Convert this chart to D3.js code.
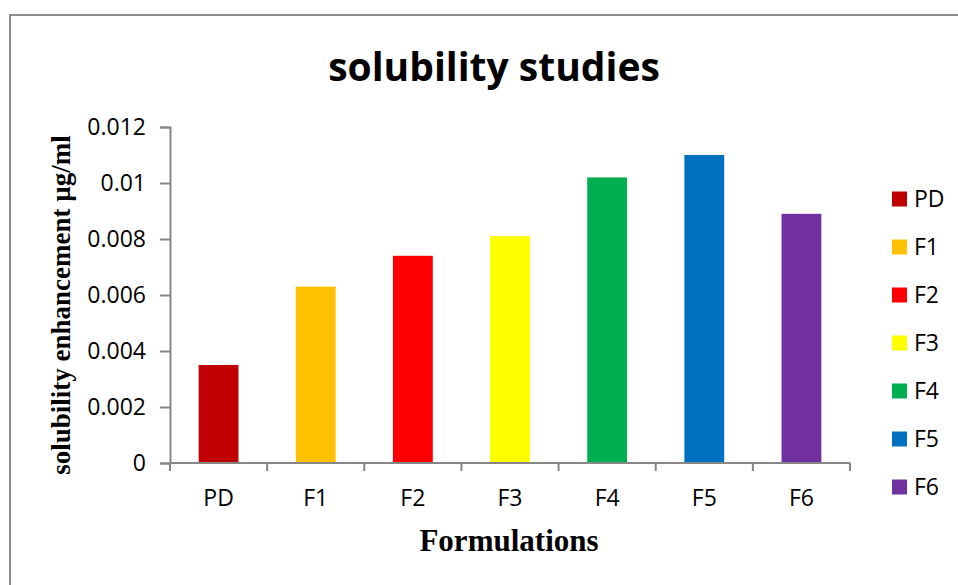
<!DOCTYPE html>
<html>
<head>
<meta charset="utf-8">
<script src="https://cdn.jsdelivr.net/npm/d3@7"></script>
<style>
  body { margin: 0; background: #fff; }
  svg { display: block; }
</style>
</head>
<body>
<div id="chart"></div>
<script>
const categories = ['PD', 'F1', 'F2', 'F3', 'F4', 'F5', 'F6'];
const values = [0.0035, 0.0063, 0.0074, 0.0081, 0.0102, 0.011, 0.0089];
const colors = ['#C00000', '#FFC000', '#FF0000', '#FFFF00', '#00B050', '#0070C0', '#7030A0'];
const yTicks = [0, 0.002, 0.004, 0.006, 0.008, 0.01, 0.012];

const width = 958, height = 585;
const margin = { top: 127, right: 108, bottom: 122, left: 170 };
const axisColor = '#868686';
const labelFont = '"Open Sans", sans-serif';

const svg = d3.select('#chart')
    .append('svg')
    .attr('width', width)
    .attr('height', height);

// Outer chart border (runs off the right/bottom edge)
svg.append('rect')
    .attr('x', 10)
    .attr('y', 15)
    .attr('width', 970)
    .attr('height', 600)
    .attr('fill', 'none')
    .attr('stroke', '#8c8c8c')
    .attr('stroke-width', 2);

const x = d3.scaleBand()
    .domain(categories)
    .range([margin.left, width - margin.right])
    .paddingInner(0.59)
    .paddingOuter(0.295);

const y = d3.scaleLinear()
    .domain([0, 0.012])
    .range([height - margin.bottom, margin.top]);

// Title
svg.append('text')
    .attr('x', 494)
    .attr('y', 81)
    .attr('text-anchor', 'middle')
    .style('font-family', labelFont)
    .style('font-size', '39px')
    .style('font-weight', 'bold')
    .text('solubility studies');

// Bars
svg.append('g')
    .selectAll('rect')
    .data(values)
    .enter().append('rect')
    .attr('x', (d, i) => x(categories[i]))
    .attr('y', d => y(d))
    .attr('width', x.bandwidth())
    .attr('height', d => y(0) - y(d))
    .attr('fill', (d, i) => colors[i]);

// Y axis
const yAxis = svg.append('g')
    .attr('transform', `translate(${margin.left},0)`)
    .call(d3.axisLeft(y).tickValues(yTicks).tickSize(10).tickPadding(14)
        .tickFormat(d => d === 0 ? '0' : String(+d.toFixed(3))));
yAxis.select('.domain').attr('stroke', axisColor).attr('stroke-width', 2);
yAxis.selectAll('.tick line').attr('stroke', axisColor).attr('stroke-width', 2);
yAxis.selectAll('.tick text')
    .attr('fill', '#000')
    .style('font-family', labelFont)
    .style('font-size', '23px');

// X axis: labels at band centres, ticks at band boundaries
const x0 = y(0);
const xAxis = svg.append('g')
    .attr('transform', `translate(0,${x0})`)
    .call(d3.axisBottom(x).tickSize(0).tickPadding(27));
xAxis.select('.domain').remove();
xAxis.selectAll('.tick text')
    .attr('fill', '#000')
    .style('font-family', labelFont)
    .style('font-size', '23px');

svg.append('line')
    .attr('x1', margin.left).attr('x2', width - margin.right)
    .attr('y1', x0).attr('y2', x0)
    .attr('stroke', axisColor).attr('stroke-width', 2);

const bounds = d3.range(categories.length + 1)
    .map(i => margin.left + i * x.step());
svg.append('g')
    .selectAll('line')
    .data(bounds)
    .enter().append('line')
    .attr('x1', d => d).attr('x2', d => d)
    .attr('y1', x0).attr('y2', x0 + 8)
    .attr('stroke', axisColor)
    .attr('stroke-width', 2);

// Axis titles
svg.append('text')
    .attr('x', 509)
    .attr('y', 551)
    .attr('text-anchor', 'middle')
    .style('font-family', '"Liberation Serif", "Times New Roman", serif')
    .style('font-size', '31px')
    .style('font-weight', 'bold')
    .text('Formulations');

svg.append('text')
    .attr('transform', 'translate(70,305) rotate(-90)')
    .attr('text-anchor', 'middle')
    .style('font-family', '"Liberation Serif", "Times New Roman", serif')
    .style('font-size', '27px')
    .style('font-weight', 'bold')
    .text('solubility enhancement µg/ml');

// Legend
const legend = svg.append('g')
    .selectAll('g')
    .data(categories)
    .enter().append('g')
    .attr('transform', (d, i) => `translate(892,${199 + i * 48})`);

legend.append('rect')
    .attr('x', 0)
    .attr('y', -7.5)
    .attr('width', 15)
    .attr('height', 15)
    .attr('fill', (d, i) => colors[i]);

legend.append('text')
    .attr('x', 22)
    .attr('dy', '0.35em')
    .style('font-family', labelFont)
    .style('font-size', '23px')
    .text(d => d);
</script>
</body>
</html>
